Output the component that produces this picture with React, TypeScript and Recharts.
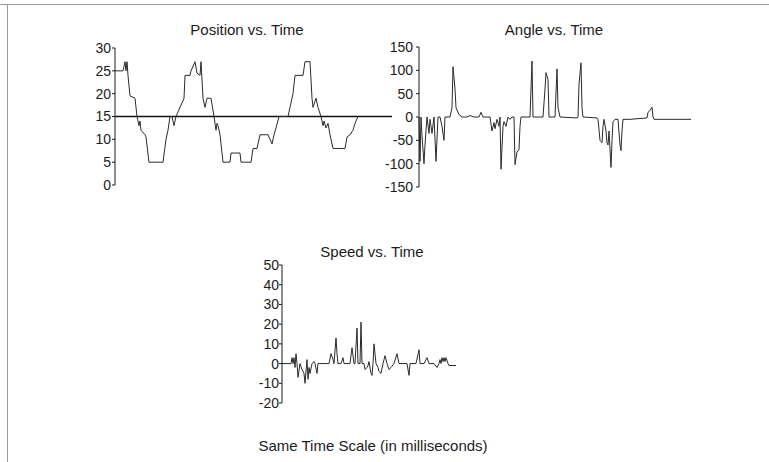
import { LineChart, Line, XAxis, YAxis, ReferenceLine } from "recharts"

// time axis (ms, shared scale) and readings for each trace
const positionTime = [0, 8, 10, 11, 12, 13, 15, 20, 22, 24, 25, 26, 30, 31, 34, 48, 51, 53, 55, 57, 59, 61, 64, 67, 69, 70, 75, 76, 79, 80, 82, 85, 86, 88, 90, 92, 96, 99, 100, 101, 102, 103, 105, 108, 115, 116, 125, 126, 136, 138, 142, 145, 153, 157, 159, 161, 164, 173, 175, 177, 178, 180, 188, 190, 195, 197, 198, 201, 203, 206, 208, 209, 211, 213, 215, 217, 218, 230, 232, 235, 238, 240, 243]
const positionValue = [25, 25, 27, 25, 27, 24, 19.5, 19, 15, 13, 14, 12, 11, 10.5, 5, 5, 10, 12, 15, 15, 13, 15, 16.5, 18, 19, 24, 24, 25, 26.5, 27, 24.5, 24, 27, 19, 17, 19, 19, 15, 13.5, 12, 13.5, 13, 11, 5, 5, 7, 7, 5, 5, 8, 8, 11, 11, 9, 11, 12.5, 15, 15, 17, 19, 20, 24, 24, 27, 27, 19, 17, 19, 17, 15, 13, 14, 12.5, 13.5, 11, 9, 8, 8, 10.5, 11, 12, 13.5, 15]
const positionTicks = [0, 5, 10, 15, 20, 25, 30]

const angleTime = [0, 1, 2, 3, 5, 6, 8, 10, 11, 13, 15, 17, 19, 21, 23, 25, 26, 31, 33, 34, 36, 37, 40, 43, 48, 51, 55, 60, 62, 64, 71, 73, 75, 76, 78, 80, 81, 82, 84, 85, 87, 89, 91, 93, 95, 96, 98, 100, 101, 102, 111, 113, 114, 124, 126, 127, 129, 130, 136, 138, 139, 141, 158, 159, 160, 162, 163, 164, 178, 179, 181, 183, 184, 185, 187, 188, 189, 190, 192, 193, 194, 196, 199, 201, 202, 203, 204, 211, 228, 229, 231, 233, 234, 235, 272]
const angleValue = [0, -95, 0, -40, -100, -60, 0, -35, -5, -35, 0, -95, 0, 0, -20, -50, 0, 0, 20, 108, 60, 20, 5, 0, 0, 3, 0, 0, 10, 0, 0, -30, -12, -25, -5, -20, 0, -112, -20, -10, -20, 0, -5, 0, 0, -102, -75, -70, -20, 0, 0, 120, 0, 0, 60, 95, 80, 0, 0, 103, 20, 0, -2, 0, 70, 116, 20, 0, -2, -5, -50, -55, -20, -5, -30, -55, -60, -30, -108, -50, -10, -5, -5, -60, -72, -30, -5, -5, -2, 10, 14, 21, 0, -5, -5]
const angleTicks = [-150, -100, -50, 0, 50, 100, 150]

const speedTime = [0, 9, 10, 11, 12, 13, 14, 15, 16, 18, 20, 22, 23, 25, 26, 27, 28, 30, 32, 33, 35, 36, 47, 49, 51, 52, 54, 55, 56, 59, 61, 62, 68, 70, 72, 73, 75, 76, 78, 79, 80, 82, 83, 85, 86, 87, 89, 90, 91, 92, 94, 96, 97, 99, 101, 102, 103, 105, 107, 109, 112, 115, 117, 125, 127, 128, 134, 137, 138, 142, 145, 147, 152, 155, 157, 158, 159, 160, 161, 162, 163, 164, 166, 167, 174]
const speedValue = [0, 0, 3, 0, 3, -2, 5, 0, -7, 0, -3, -5, -10, 2, -8, -2, -5, 0, 1, 0, -5, 0, 0, 5, 2, 0, 13, 5, 0, 0, 3, 0, 0, 8, 0, 0, 18, 0, 0, 21, 0, 0, -3, -2, -1, 1, -5, -6, 0, 10, 0, -2, -4, -5, 0, 2, 4, 0, -3, -2, 0, 5, 0, 0, -6, 0, 0, 7, 0, 0, 3, 0, 0, -2, 0, 2, 0, 3, 1, 3, 1, 3, 0, -1, -1]
const speedTicks = [-20, -10, 0, 10, 20, 30, 40, 50]

const FONT = "'Liberation Sans', Arial, Helvetica, sans-serif"
const INK = "#1c1c1c"
const PAD = 12

const toRows = (t: number[], v: number[]) => t.map((time, i) => ({ t: time, v: v[i] }))

type TraceProps = {
  left: number
  top: number
  width: number
  plotHeight: number
  axisWidth: number
  tMax: number
  yDomain: [number, number]
  ticks: number[]
  tickMargin: number
  rows: { t: number; v: number }[]
  baseline?: number
}

// left/top are where the plot area (axis line) starts
function Trace({ left, top, width, plotHeight, axisWidth, tMax, yDomain, ticks, tickMargin, rows, baseline }: TraceProps) {
  return (
    <div style={{ position: "absolute", left: left - axisWidth, top: top - PAD }}>
      <LineChart
        width={width + axisWidth}
        height={plotHeight + PAD * 2}
        data={rows}
        margin={{ top: PAD, right: 0, bottom: PAD, left: 0 }}
      >
        <XAxis type="number" dataKey="t" domain={[0, tMax]} hide />
        <YAxis
          type="number"
          width={axisWidth}
          domain={yDomain}
          ticks={ticks}
          interval={0}
          tickSize={3}
          tickMargin={tickMargin}
          axisLine={{ stroke: INK, strokeWidth: 1 }}
          tickLine={{ stroke: INK }}
          tick={{ fontSize: 14, fill: INK, fontFamily: FONT }}
        />
        {baseline !== undefined && (
          <ReferenceLine y={baseline} stroke="#111" strokeWidth={1.6} ifOverflow="extendDomain" />
        )}
        <Line
          type="linear"
          dataKey="v"
          stroke="#2a2a2a"
          strokeWidth={1}
          dot={false}
          isAnimationActive={false}
        />
      </LineChart>
    </div>
  )
}

export default function App() {
  return (
    <div style={{ position: "absolute", left: 0, top: 0, width: 769, height: 462, background: "#fff", overflow: "hidden" }}>
      <svg width={769} height={462} style={{ position: "absolute", left: 0, top: 0 }}>
        <line x1={0} y1={4.5} x2={769} y2={4.5} stroke="#9a9a9a" strokeWidth={1} />
        <line x1={7.5} y1={4} x2={7.5} y2={462} stroke="#9a9a9a" strokeWidth={1} />
        <g fontFamily={FONT} fontSize={15} fill={INK} textAnchor="middle">
          <text x={247} y={35}>Position vs. Time</text>
          <text x={554} y={35}>Angle vs. Time</text>
          <text x={372} y={257}>Speed vs. Time</text>
          <text x={373} y={451}>Same Time Scale (in milliseconds)</text>
        </g>
      </svg>

      <Trace
        left={115}
        top={48}
        width={277}
        plotHeight={137}
        axisWidth={40}
        tMax={277}
        yDomain={[0, 30]}
        ticks={positionTicks}
        tickMargin={1}
        rows={toRows(positionTime, positionValue)}
        baseline={15}
      />

      <Trace
        left={419}
        top={47}
        width={272}
        plotHeight={140}
        axisWidth={45}
        tMax={272}
        yDomain={[-150, 150]}
        ticks={angleTicks}
        tickMargin={3}
        rows={toRows(angleTime, angleValue)}
      />

      <Trace
        left={282}
        top={265}
        width={174}
        plotHeight={138}
        axisWidth={40}
        tMax={174}
        yDomain={[-20, 50]}
        ticks={speedTicks}
        tickMargin={0}
        rows={toRows(speedTime, speedValue)}
      />
    </div>
  )
}
